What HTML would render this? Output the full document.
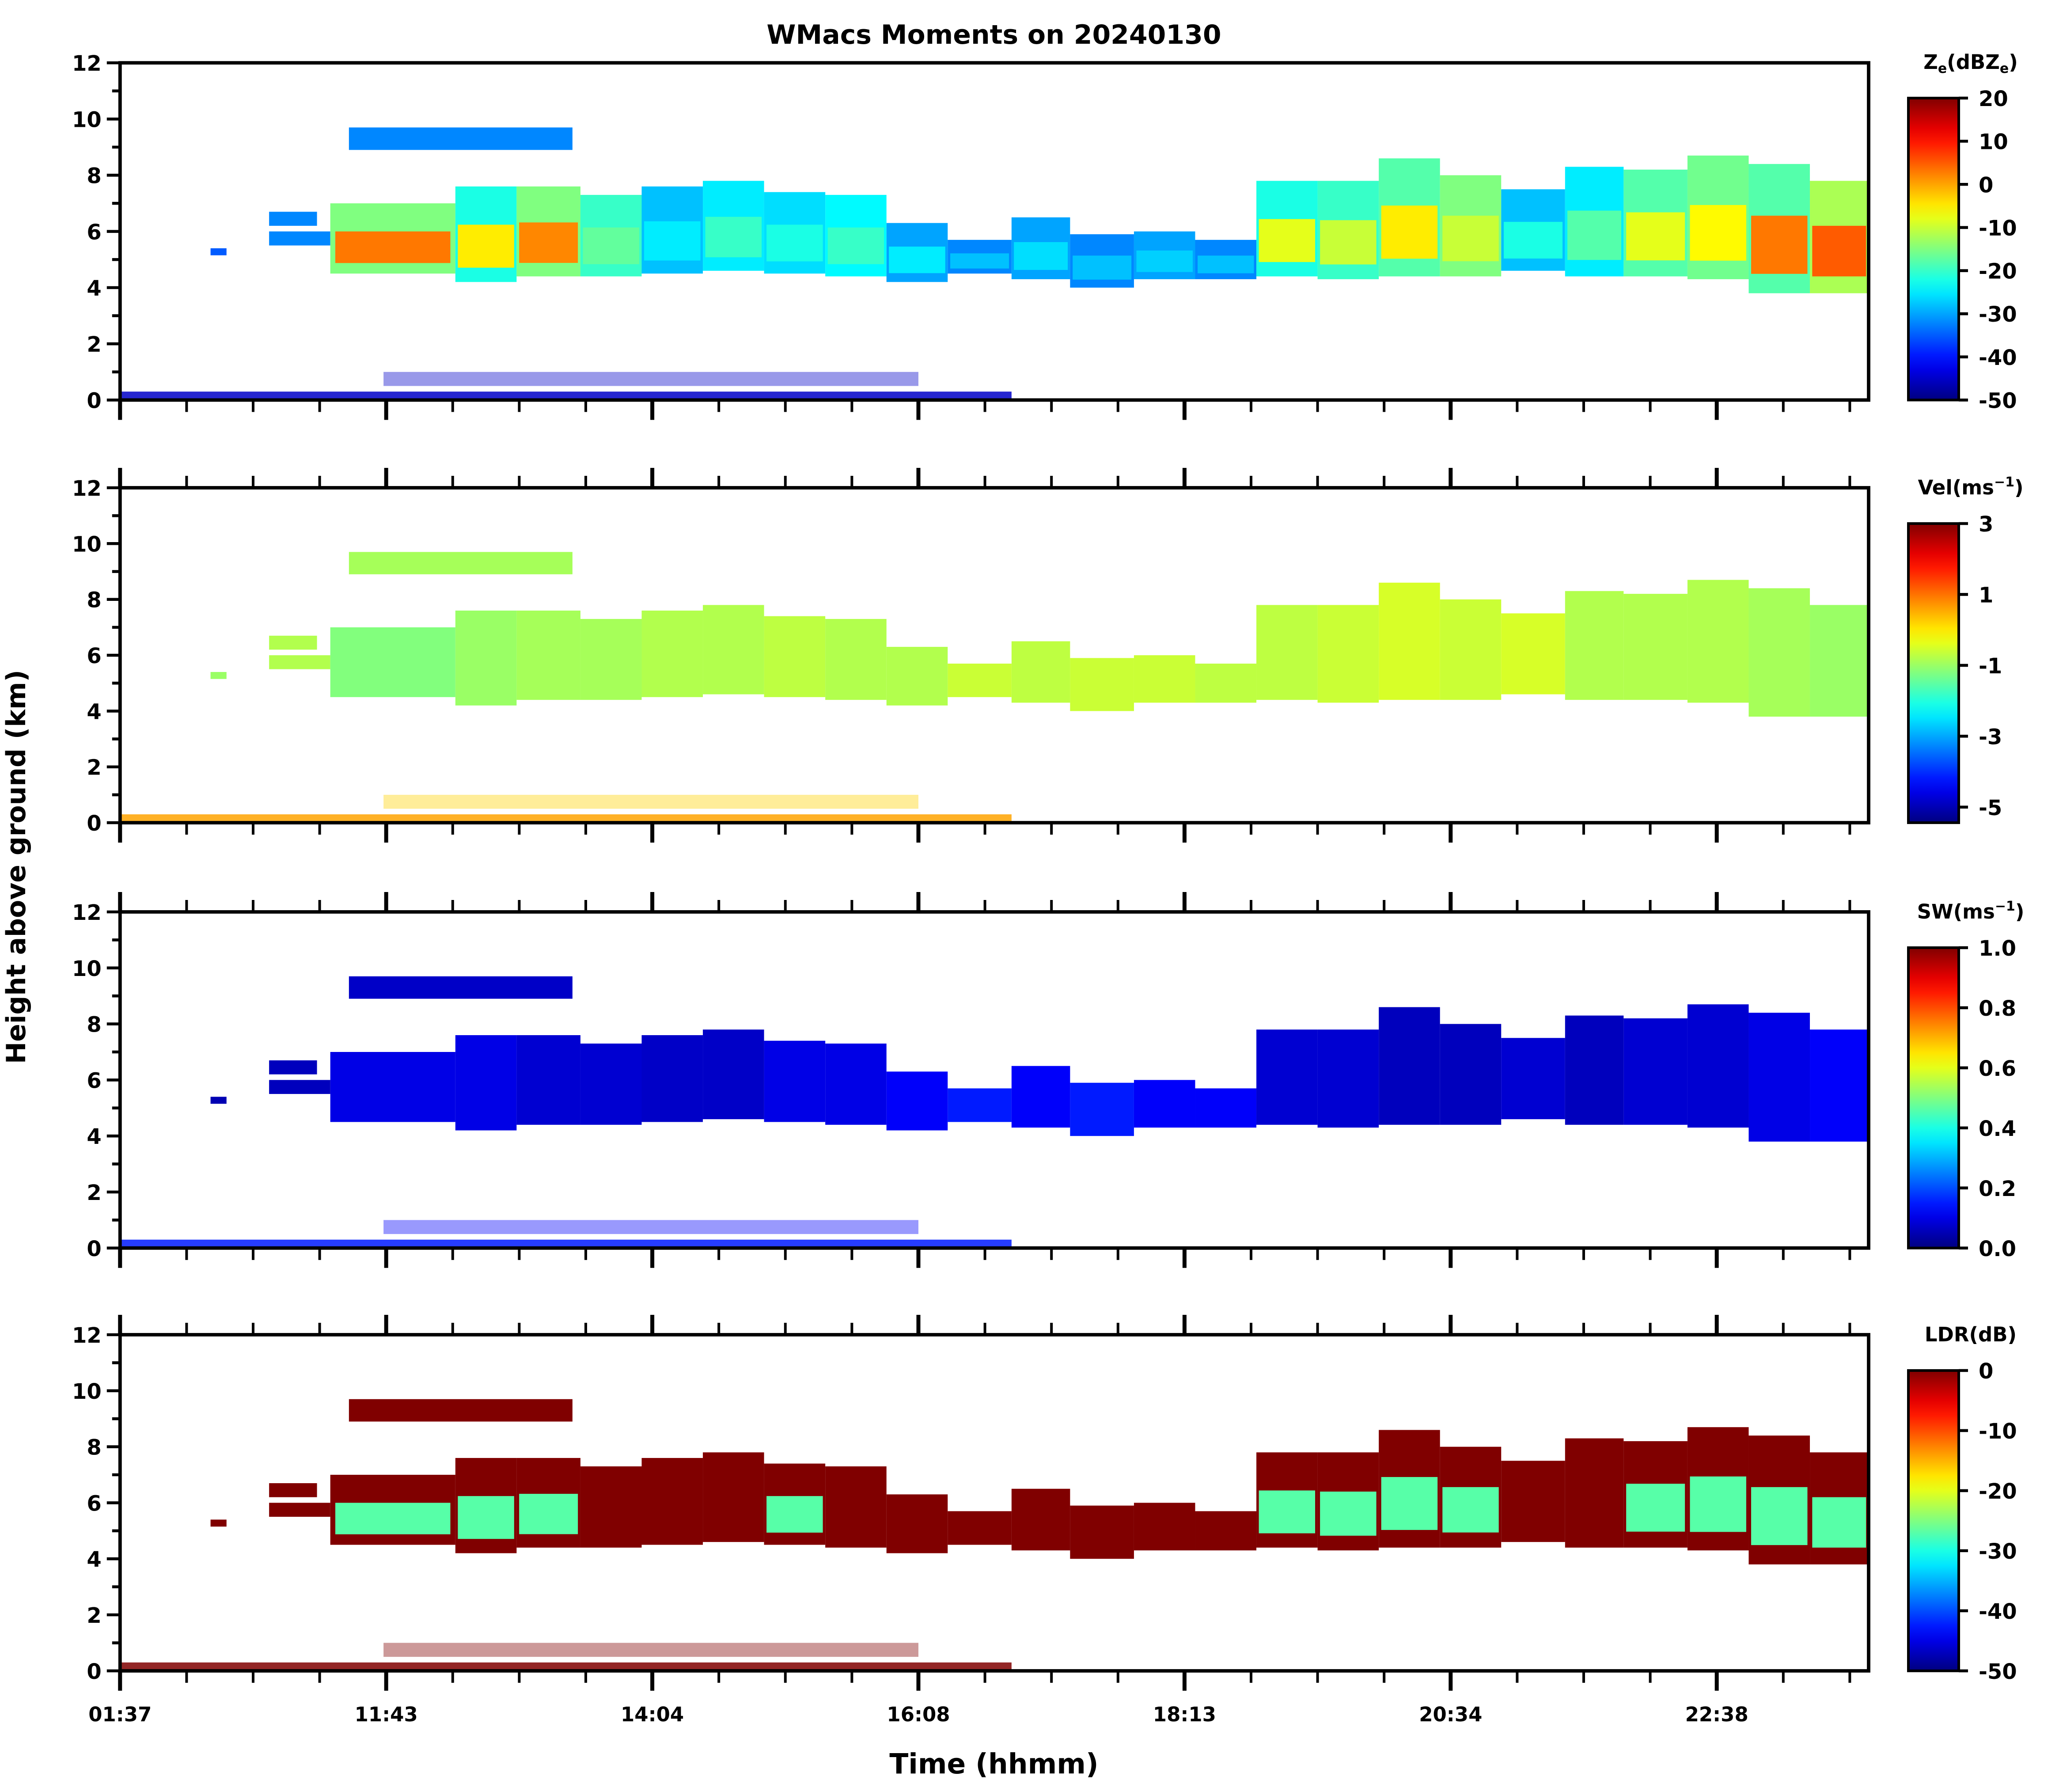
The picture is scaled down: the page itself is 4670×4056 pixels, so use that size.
<!DOCTYPE html>
<html><head><meta charset="utf-8"><style>
html,body{margin:0;padding:0;background:#fff;}
svg{display:block;font-family:"DejaVu Sans","Liberation Sans",sans-serif;font-weight:bold;}
</style></head><body>
<svg id="fig" xmlns="http://www.w3.org/2000/svg" width="4670" height="4056" viewBox="0 0 1556.67 1352">
<text x="750" y="33" font-size="20" text-anchor="middle">WMacs Moments on 20240130</text>
<text transform="translate(19,654) rotate(-90)" font-size="20" text-anchor="middle">Height above ground (km)</text>
<text x="750" y="1338" font-size="21" text-anchor="middle">Time (hhmm)</text>
</svg>
<script>
// ---- data ----
const xTickLabels = ['01:37','11:43','14:04','16:08','18:13','20:34','22:38'];
const yTickLabels = [0,2,4,6,8,10,12];
const segStart = [0.34,0.56,0.56,0.86,0.79,1.26,1.49,1.73,1.96,2.19,2.42,2.65,2.88,3.11,3.35,3.57,3.81,4.04,4.27,4.50,4.73,4.96,5.19,5.43,5.65,5.89,6.12,6.35,0,0.99];
const segEnd   = [0.40,0.79,0.74,1.70,1.26,1.49,1.73,1.96,2.19,2.42,2.65,2.88,3.11,3.35,3.57,3.81,4.04,4.27,4.50,4.73,4.96,5.19,5.43,5.65,5.89,6.12,6.35,6.57,3.35,3.0];
const segBase  = [5.15,5.5,6.2,8.9,4.5,4.2,4.4,4.4,4.5,4.6,4.5,4.4,4.2,4.5,4.3,4.0,4.3,4.3,4.4,4.3,4.4,4.4,4.6,4.4,4.4,4.3,3.8,3.8,0,0.5];
const segTop   = [5.4,6.0,6.7,9.7,7.0,7.6,7.6,7.3,7.6,7.8,7.4,7.3,6.3,5.7,6.5,5.9,6.0,5.7,7.8,7.8,8.6,8.0,7.5,8.3,8.2,8.7,8.4,7.8,0.3,1.0];
const zeOuter  = [-35,-32,-32,-32,-15,-22,-15,-20,-28,-25,-26,-24,-30,-32,-30,-32,-30,-32,-22,-20,-18,-15,-28,-25,-18,-16,-18,-12,-45,-45];
const zeCore   = [-35,-32,-32,-32,3,-5,2,-17,-25,-20,-22,-20,-25,-28,-26,-28,-27,-28,-8,-10,-5,-10,-22,-18,-8,-6,3,5,-45,-45];
const velOuter = [-1.0,-0.8,-0.8,-0.9,-1.2,-1.0,-0.9,-0.9,-0.8,-0.8,-0.7,-0.8,-0.8,-0.6,-0.7,-0.6,-0.6,-0.7,-0.7,-0.6,-0.5,-0.6,-0.5,-0.8,-0.8,-0.8,-0.9,-1.0,0.6,0.2];
const swOuter  = [0.05,0.06,0.06,0.07,0.1,0.1,0.08,0.08,0.07,0.07,0.1,0.1,0.12,0.15,0.12,0.15,0.12,0.12,0.08,0.08,0.06,0.06,0.08,0.06,0.08,0.08,0.1,0.12,0.15,0.12];
const ldrOuter = [0,0,0,0,0,0,0,0,0,0,0,0,0,0,0,0,0,0,0,0,0,0,0,0,0,0,0,0,0,0];
const ldrCore  = [0,0,0,0,-27,-27,-27,0,0,0,-27,0,0,0,0,0,0,0,-27,-27,-27,-27,0,0,-27,-27,-27,-27,0,0];

const NS='http://www.w3.org/2000/svg';
const svg=document.getElementById('fig');
function el(tag,attrs,parent){const e=document.createElementNS(NS,tag);for(const k in attrs)e.setAttribute(k,attrs[k]);(parent||svg).appendChild(e);return e;}
function jet(t){t=Math.max(0,Math.min(1,t));
  const r=Math.max(0,Math.min(1,1.5-Math.abs(4*t-3)));
  const g=Math.max(0,Math.min(1,1.5-Math.abs(4*t-2)));
  const b=Math.max(0,Math.min(1,1.5-Math.abs(4*t-1)));
  return 'rgb('+Math.round(r*255)+','+Math.round(g*255)+','+Math.round(b*255)+')';}

const X0=90.6,X1=1410,UNIT=200.8;
const xScale=u=>X0+u*UNIT;
const panels=[
 {top:47.4,bot:301.8,name:'reflectivity',outer:zeOuter,core:zeCore,vmin:-50,vmax:20,cb:[20,10,0,-10,-20,-30,-40,-50],cbTitle:'Z<tspan font-size="10" dy="3">e</tspan><tspan dy="-3">(dBZ</tspan><tspan font-size="10" dy="3">e</tspan><tspan dy="-3">)</tspan>',cbTop:74,fmt:v=>v},
 {top:368,bot:620.7,name:'velocity',outer:velOuter,core:velOuter,vmin:-5.44,vmax:3,cb:[3,1,-1,-3,-5],cbTitle:'Vel(ms<tspan font-size="10" dy="-6">−1</tspan><tspan dy="6">)</tspan>',cbTop:395,fmt:v=>v},
 {top:688,bot:941.6,name:'spectral-width',outer:swOuter,core:swOuter,vmin:0,vmax:1,cb:[1,0.8,0.6,0.4,0.2,0],cbTitle:'SW(ms<tspan font-size="10" dy="-6">−1</tspan><tspan dy="6">)</tspan>',cbTop:715,fmt:v=>v.toFixed(1)},
 {top:1007,bot:1260.6,name:'ldr',outer:ldrOuter,core:ldrCore,vmin:-50,vmax:0,cb:[0,-10,-20,-30,-40,-50],cbTitle:'LDR(dB)',cbTop:1034,fmt:v=>v}
];

panels.forEach((p,pi)=>{
  const g=el('g',{});
  
  
  const yScale=h=>p.bot-(h/12)*(p.bot-p.top);
  const cScale=v=>jet((v-p.vmin)/(p.vmax-p.vmin));
  for(let i=0;i<segStart.length;i++){
    const x=xScale(segStart[i]),w=xScale(segEnd[i])-x;
    const y=yScale(segTop[i]),h=yScale(segBase[i])-y;
    const r=el('rect',{x:x,y:y,width:w,height:h,fill:cScale(p.outer[i]),opacity:i===29?0.4:(i===28?0.85:1)},g);
    
    
    if(p.core[i]!==p.outer[i]){
      const span=segTop[i]-segBase[i];
      const cy=yScale(segBase[i]+0.6*span),ch=yScale(segBase[i]+0.15*span)-cy;
      const c=el('rect',{x:x+w*0.04,y:cy,width:w*0.92,height:ch,fill:cScale(p.core[i])},g);
      
      
    }
  }
  const f=el('rect',{x:X0,y:p.top,width:X1-X0,height:p.bot-p.top,fill:'none',stroke:'#000','stroke-width':2.6},g);
  
  
  for(let h=0;h<=12;h++){
    const y=yScale(h),major=h%2===0;
    el('line',{x1:X0,x2:X0-(major?10:6),y1:y,y2:y,stroke:'#000','stroke-width':2.2},g);
  }
  yTickLabels.forEach(v=>{
    const t=el('text',{x:X0-14,y:yScale(v)+6,'font-size':16,'text-anchor':'end'},g);
    t.textContent=v;
    
    
  });
  for(let k=0;k<=26;k++){
    const u=k/4,x=xScale(u);if(x>X1+0.5)break;
    const major=k%4===0;
    el('line',{x1:x,x2:x,y1:p.bot,y2:p.bot+(major?15:9),stroke:'#000','stroke-width':major?3:2},g);
    if(pi>0) el('line',{x1:x,x2:x,y1:p.top,y2:p.top-(major?15:9),stroke:'#000','stroke-width':major?3:2},g);
  }
  if(pi===3){
    xTickLabels.forEach((lab,k)=>{
      const t=el('text',{x:xScale(k),y:p.bot+38,'font-size':15,'text-anchor':'middle'},g);
      t.textContent=lab;
      
      
    });
  }
  const cb=el('g',{},g);
  
  
  const gid='grad'+pi;
  const defs=el('defs',{},cb);
  const lg=el('linearGradient',{id:gid,x1:0,y1:1,x2:0,y2:0},defs);
  for(let s=0;s<=20;s++){el('stop',{offset:s/20,'stop-color':jet(s/20)},lg);}
  const cx=1440,cw=38,ct=p.cbTop,cbB=p.bot;
  el('rect',{x:cx,y:ct,width:cw,height:cbB-ct,fill:'url(#'+gid+')',stroke:'#000','stroke-width':2},cb);
  const vy=v=>cbB-(v-p.vmin)/(p.vmax-p.vmin)*(cbB-ct);
  p.cb.forEach(v=>{
    const y=vy(v);
    el('line',{x1:cx+cw,x2:cx+cw+7,y1:y,y2:y,stroke:'#000','stroke-width':2.2},cb);
    const t=el('text',{x:cx+cw+15,y:y+6,'font-size':16},cb);
    t.textContent=p.fmt(v);
    
    
  });
  const tt=el('text',{x:1487,y:ct-22,'font-size':15,'text-anchor':'middle'},cb);
  tt.innerHTML=p.cbTitle;
  
  
});
</script>
</body></html>
